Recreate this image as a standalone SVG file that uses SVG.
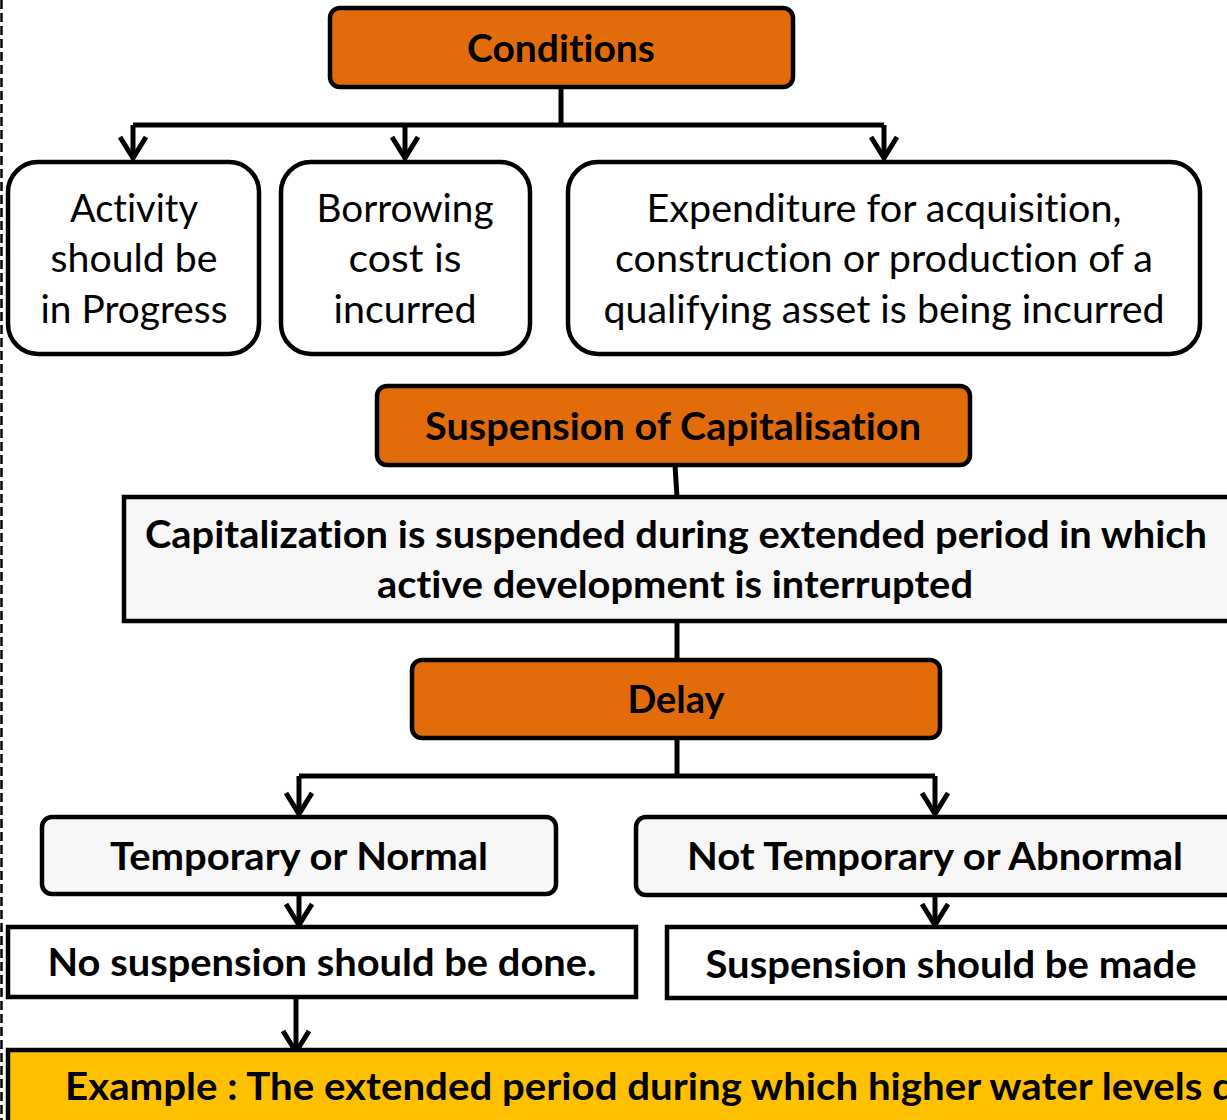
<svg xmlns="http://www.w3.org/2000/svg" width="1227" height="1120" viewBox="0 0 1227 1120">
<defs>
<style>
.t{font-family:Lato,"Open Sans","Liberation Sans",sans-serif;font-size:38px;fill:#000;text-anchor:middle;font-variant-ligatures:none;font-feature-settings:"liga" 0}
.b{font-weight:bold}
.hdr{fill:#E36C0A;stroke:#000;stroke-width:4.5}
.gry{fill:#F7F7F7;stroke:#000;stroke-width:4.5}
.wht{fill:#FFFFFF;stroke:#000;stroke-width:4.5}
.ex{fill:#FFC000;stroke:#000;stroke-width:4.5}
.c{fill:none;stroke:#000;stroke-width:5}
</style>
<marker id="ah" viewBox="-4 -4 30 34" refX="21" refY="13" markerWidth="30" markerHeight="34" markerUnits="userSpaceOnUse" orient="auto" overflow="visible">
<path d="M0,0 L21,13 L0,26" fill="none" stroke="#000" stroke-width="5" stroke-linejoin="miter"/>
</marker>
</defs>
<rect width="1227" height="1120" fill="#fff"/>
<line x1="1.5" y1="0" x2="1.5" y2="1120" stroke="#000" stroke-width="2.5" stroke-dasharray="9,4"/>

<g id="connectors">
<path class="c" d="M561,87 V125"/>
<path class="c" d="M133,125 H884"/>
<path class="c" d="M133,125 V158" marker-end="url(#ah)"/>
<path class="c" d="M405,125 V158" marker-end="url(#ah)"/>
<path class="c" d="M884,125 V158" marker-end="url(#ah)"/>
<path class="c" d="M675,465 L677,497"/>
<path class="c" d="M677,621 V660"/>
<path class="c" d="M677,738 V776"/>
<path class="c" d="M299,776 H935"/>
<path class="c" d="M299,776 V814" marker-end="url(#ah)"/>
<path class="c" d="M935,776 V814" marker-end="url(#ah)"/>
<path class="c" d="M299,894 V925" marker-end="url(#ah)"/>
<path class="c" d="M935,895 V925" marker-end="url(#ah)"/>
<path class="c" d="M296,998 V1052" marker-end="url(#ah)"/>
</g>

<g id="conditions">
<rect class="hdr" x="330" y="8" width="463" height="79" rx="10"/>
<text class="t b" x="561" y="62" textLength="188" lengthAdjust="spacingAndGlyphs">Conditions</text>
</g>

<g id="activity">
<rect class="wht" x="8" y="162" width="251" height="192" rx="30"/>
<text class="t" x="134" y="222" textLength="128" lengthAdjust="spacingAndGlyphs">Activity</text>
<text class="t" x="134" y="272" textLength="167" lengthAdjust="spacingAndGlyphs">should be</text>
<text class="t" x="134" y="323" textLength="187" lengthAdjust="spacingAndGlyphs">in Progress</text>
</g>

<g id="borrowing">
<rect class="wht" x="281" y="162" width="249" height="192" rx="30"/>
<text class="t" x="405" y="222" textLength="177" lengthAdjust="spacingAndGlyphs">Borrowing</text>
<text class="t" x="405" y="272" textLength="113" lengthAdjust="spacingAndGlyphs">cost is</text>
<text class="t" x="405" y="323" textLength="143" lengthAdjust="spacingAndGlyphs">incurred</text>
</g>

<g id="expenditure">
<rect class="wht" x="568" y="162" width="632" height="192" rx="30"/>
<text class="t" x="884" y="222" textLength="475" lengthAdjust="spacingAndGlyphs">Expenditure for acquisition,</text>
<text class="t" x="884" y="272" textLength="538" lengthAdjust="spacingAndGlyphs">construction or production of a</text>
<text class="t" x="884" y="323" textLength="561" lengthAdjust="spacingAndGlyphs">qualifying asset is being incurred</text>
</g>

<g id="suspension">
<rect class="hdr" x="377" y="386" width="593" height="79" rx="10"/>
<text class="t b" x="673" y="440" textLength="496" lengthAdjust="spacingAndGlyphs">Suspension of Capitalisation</text>
</g>

<g id="capitalization">
<rect class="gry" x="124" y="497" width="1115" height="124"/>
<text class="t b" x="676" y="548" textLength="1062" lengthAdjust="spacingAndGlyphs">Capitalization is suspended during extended period in which</text>
<text class="t b" x="675" y="598" textLength="596" lengthAdjust="spacingAndGlyphs">active development is interrupted</text>
</g>

<g id="delay">
<rect class="hdr" x="412" y="660" width="528" height="78" rx="10"/>
<text class="t b" x="676" y="713" textLength="97" lengthAdjust="spacingAndGlyphs">Delay</text>
</g>

<g id="temporary">
<rect class="gry" x="42" y="817" width="514" height="77" rx="10"/>
<text class="t b" x="299" y="870" textLength="378" lengthAdjust="spacingAndGlyphs">Temporary or Normal</text>
</g>

<g id="not-temporary">
<rect class="gry" x="636" y="817" width="605" height="78" rx="10"/>
<text class="t b" x="935" y="870" textLength="496" lengthAdjust="spacingAndGlyphs">Not Temporary or Abnormal</text>
</g>

<g id="no-suspension">
<rect class="wht" x="8" y="927" width="628" height="70"/>
<text class="t b" x="322" y="976" textLength="549" lengthAdjust="spacingAndGlyphs">No suspension should be done.</text>
</g>

<g id="suspension-made">
<rect class="wht" x="667" y="927" width="574" height="71"/>
<text class="t b" x="951" y="978" textLength="491" lengthAdjust="spacingAndGlyphs">Suspension should be made</text>
</g>

<g id="example">
<rect class="ex" x="8" y="1050" width="1235" height="80"/>
<text class="t b" x="65" y="1100" style="text-anchor:start" textLength="1170" lengthAdjust="spacingAndGlyphs">Example : The extended period during which higher water levels d</text>
</g>
</svg>
